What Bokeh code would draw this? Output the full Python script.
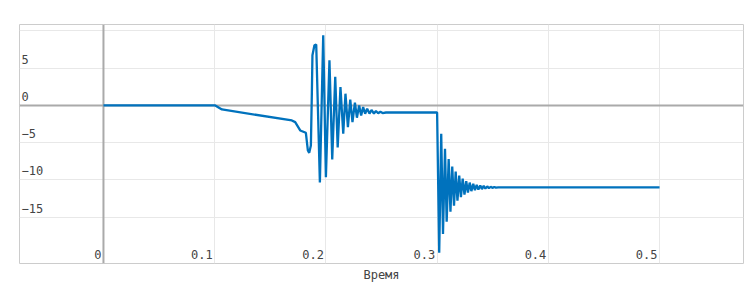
from bokeh.plotting import figure
from bokeh.models import FixedTicker, Span, Title
from bokeh.core.properties import value
from bokeh.embed import file_html
from bokeh.resources import INLINE

# ---- data ----
t_s = [0.0, 0.1005, 0.1065, 0.1694, 0.1724, 0.1769, 0.1820, 0.1838, 0.1850, 0.1865,
       0.1874, 0.1879, 0.1897, 0.1913, 0.1946, 0.1976, 0.2000, 0.2032, 0.2057, 0.2084,
       0.2106, 0.2131, 0.2156, 0.2176, 0.2198, 0.2219, 0.2239, 0.2261, 0.2279, 0.2299,
       0.2317, 0.2335, 0.2353, 0.2371, 0.2392, 0.2410, 0.2432, 0.2450, 0.2470, 0.2490,
       0.2510, 0.2540, 0.3000,
       0.3019, 0.3037, 0.3053, 0.3071, 0.3086, 0.3104, 0.3120, 0.3136, 0.3152, 0.3167,
       0.3183, 0.3199, 0.3214, 0.3230, 0.3246, 0.3262, 0.3277, 0.3293, 0.3308, 0.3325,
       0.3340, 0.3356, 0.3371, 0.3388, 0.3403, 0.3419, 0.3434, 0.3451, 0.3466, 0.3482,
       0.3497, 0.3514, 0.3529, 0.3550, 0.5000]
voltage = [0.0, 0.0, -0.54, -2.02, -2.24, -3.36, -3.67, -6.05, -6.36, -5.38,
           1.79, 6.72, 8.06, 8.16, -10.35, 9.41, -9.64, 6.05, -7.26, 3.83,
           -5.65, 2.46, -3.80, 1.57, -2.92, 0.77, -2.24, 0.36, -1.65, 0.0,
           -1.34, -0.23, -1.12, -0.44, -1.10, -0.62, -1.08, -0.75, -1.05, -0.85,
           -1.02, -0.95, -0.95,
           -19.76, -3.80, -17.24, -5.82, -15.59, -7.19, -14.25, -8.20, -13.44, -8.87,
           -12.77, -9.41, -12.30, -9.81, -11.96, -10.15, -11.69, -10.35, -11.49, -10.52,
           -11.36, -10.65, -11.29, -10.73, -11.22, -10.79, -11.16, -10.86, -11.10, -10.92,
           -11.06, -10.94, -11.03, -11.00, -11.00]

x_ticks = [0, 0.1, 0.2, 0.3, 0.4, 0.5]
x_labels = ["0", "0.1", "0.2", "0.3", "0.4", "0.5"]
y_grid_ticks = [-15, -10, -5, 0, 5, 10]
y_label_ticks = [-15, -10, -5, 0, 5]
y_labels = ["\u221215", "\u221210", "\u22125", "0", "5"]
x_title = "Время"

FONT = "DejaVu Sans Mono"
TXT = "#444444"

p = figure(width=753, height=287, x_range=(-0.0755, 0.5755), y_range=(-21.2, 10.85),
           min_border_left=19, min_border_right=10, min_border_top=24, min_border_bottom=24,
           output_backend="svg", toolbar_location=None)
p.title.visible = False
p.xaxis.visible = False
p.yaxis.visible = False
p.background_fill_color = "white"
p.border_fill_color = "white"
p.outline_line_color = "#cccccc"
p.outline_line_width = 1

p.xgrid.ticker = FixedTicker(ticks=x_ticks)
p.ygrid.ticker = FixedTicker(ticks=y_grid_ticks)
for g in (p.xgrid, p.ygrid):
    g.grid_line_color = "#e8e8e8"
    g.grid_line_width = 1

p.add_layout(Span(location=0, dimension="width", line_color="#aaaaaa", line_width=2, level="underlay"))
p.add_layout(Span(location=0, dimension="height", line_color="#aaaaaa", line_width=2, level="underlay"))

p.line(t_s, voltage, line_color="#0072BD", line_width=2.3)

# tick labels inside the plot area
x0 = p.x_range.start
y0 = p.y_range.start
p.text(x=[x0] * len(y_label_ticks), y=y_label_ticks, text=y_labels,
       x_offset=2, y_offset=-9, text_align="left", text_baseline="alphabetic",
       text_font=value(FONT), text_font_size="12px", text_color=TXT)
p.text(x=x_ticks, y=[y0] * len(x_ticks), text=x_labels,
       x_offset=-2, y_offset=-9, text_align="right", text_baseline="alphabetic",
       text_font=value(FONT), text_font_size="12px", text_color=TXT)

p.add_layout(Title(text=x_title, align="center", text_font=FONT, text_font_size="12px",
                   text_font_style="normal", text_color=TXT, standoff=5), "below")

open("out.html", "w").write(file_html(p, INLINE))
